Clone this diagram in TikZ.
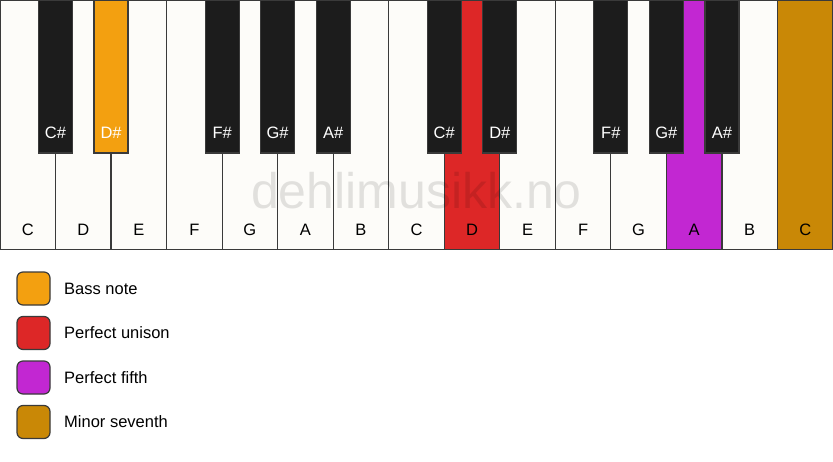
\documentclass[tikz,border=0pt]{standalone}
\usepackage{fontspec}
\setmainfont{Liberation Sans}
\definecolor{wkey}{HTML}{FDFCF9}
\definecolor{bkey}{HTML}{1C1C1C}
\definecolor{edge}{HTML}{3A3A3A}
\definecolor{bass}{HTML}{F3A010}
\definecolor{unison}{HTML}{DD2727}
\definecolor{fifth}{HTML}{C227D2}
\definecolor{seventh}{HTML}{C98806}
\tikzset{
  whitekey/.style={draw=edge, line width=1.2pt, rectangle, inner sep=0pt, minimum width=55.53pt, minimum height=249pt},
  blackkey/.style={draw=edge, line width=1.2pt, rectangle, inner sep=0pt, minimum width=34pt, minimum height=153pt},
  keylabel/.style={font=\fontsize{16.5}{18}\selectfont, inner sep=0pt},
  swatch/.style={draw=edge, line width=1.2pt, rounded corners=6pt, rectangle, inner sep=0pt, minimum width=33pt, minimum height=33pt},
  legendtext/.style={font=\fontsize{16.5}{18}\selectfont, anchor=west, inner sep=0pt}
}
\begin{document}
\begin{tikzpicture}[x=1pt,y=-1pt]
\useasboundingbox (0,0) rectangle (833,461);
\fill[white] (0,0) rectangle (833,461);
\def\kw{55.533}
% white keys
\foreach \n/\c [count=\i from 0] in {C/wkey,D/wkey,E/wkey,F/wkey,G/wkey,A/wkey,B/wkey,C/wkey,D/unison,E/wkey,F/wkey,G/wkey,A/fifth,B/wkey,C/seventh}{
  \node[whitekey, fill=\c] (w\i) at ({(\i+0.5)*\kw},125) {};
  \node[keylabel] (wl\i) at ({(\i+0.5)*\kw},230) {\n};
}
% watermark
\node[font=\fontsize{50}{52}\selectfont, text=black, text opacity=0.11, inner sep=0pt] (wm) at (416.5,191) {dehlimusikk.no};
% black keys
\foreach \b/\n/\c in {1/C\#/bkey,2/D\#/bass,4/F\#/bkey,5/G\#/bkey,6/A\#/bkey,8/C\#/bkey,9/D\#/bkey,11/F\#/bkey,12/G\#/bkey,13/A\#/bkey}{
  \node[blackkey, fill=\c] (b\b) at ({\b*\kw},76.5) {};
  \node[keylabel, text=white] (bl\b) at ({\b*\kw},133) {\n};
}
% legend
\foreach \c/\t/\y [count=\j] in {bass/Bass note/288.5, unison/Perfect unison/333, fifth/Perfect fifth/377.5, seventh/Minor seventh/422}{
  \node[swatch, fill=\c] (s\j) at (33.5,\y) {};
  \node[legendtext] (t\j) at (64,\y) {\t};
}
\end{tikzpicture}
\end{document}
